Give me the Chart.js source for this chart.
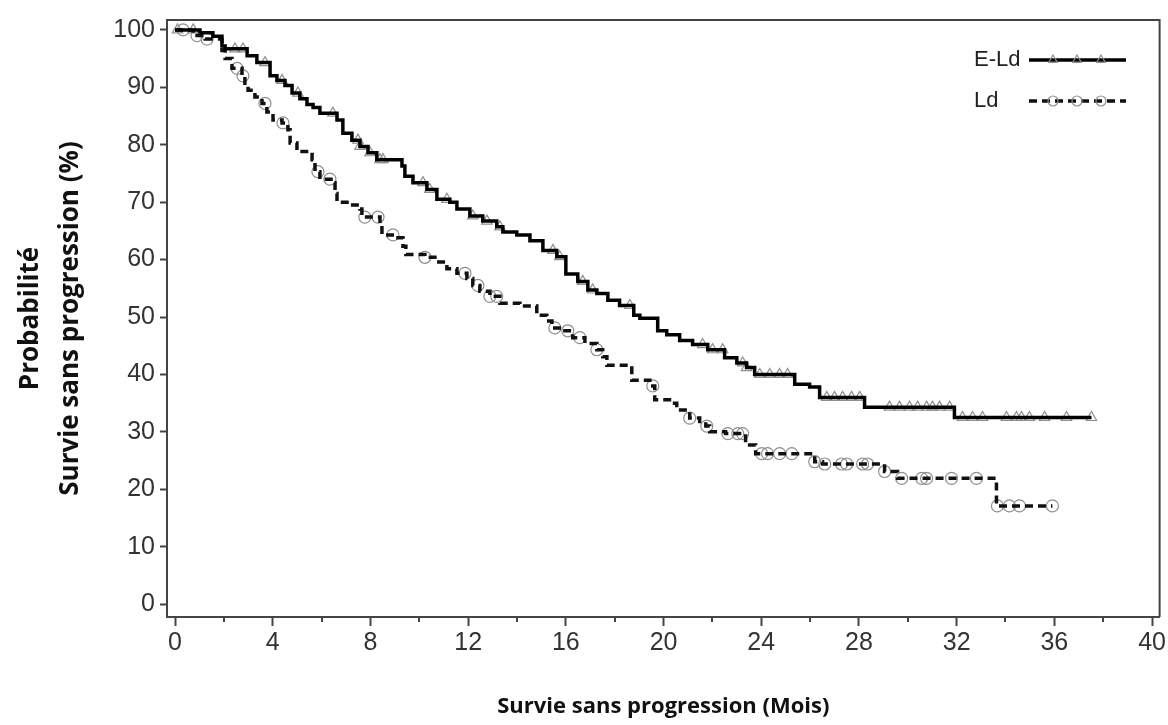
<!DOCTYPE html>
<html><head><meta charset="utf-8">
<script src="https://cdn.jsdelivr.net/npm/chart.js@4.4.1/dist/chart.umd.min.js"></script>
<style>html,body{margin:0;padding:0;background:#fff;}#wrap{width:1168px;height:725px;position:relative;}</style>
</head><body><div id="wrap"><canvas id="c" width="1168" height="725"></canvas></div>
<script>
// ---- data ----
const monthTicks = [0, 4, 8, 12, 16, 20, 24, 28, 32, 36, 40];
const minorMonthTicks = [2, 6, 10, 14, 18, 22, 26, 30, 34, 38];
const pctTicks = [0, 10, 20, 30, 40, 50, 60, 70, 80, 90, 100];
const seriesNames = ['E-Ld', 'Ld'];

const eldTimes = [0, 1.02, 1.55, 1.92, 2.05, 2.95, 3.35, 3.89, 4.17, 4.5, 4.79, 5.11, 5.4, 5.65, 5.93, 6.63, 6.87, 7.24, 7.57, 7.9, 8.26, 9.29, 9.41, 9.74, 10.31, 10.72, 11.25, 11.54, 12.07, 12.6, 13.17, 13.42, 13.99, 14.53, 15.06, 15.63, 16.0, 16.49, 16.9, 17.27, 17.72, 18.2, 18.78, 19.03, 19.76, 20.13, 20.66, 21.19, 21.81, 22.5, 23.0, 23.4, 23.73, 25.37, 25.98, 26.39, 28.23, 31.91, 37.52];
const eldSurv = [100, 99.5, 98.9, 97.2, 96.7, 95.5, 94.3, 92, 91.2, 90.3, 89, 88, 87, 86.5, 85.5, 84.3, 82, 80.8, 79.7, 78.6, 77.4, 76.3, 74.5, 73.4, 72.2, 70.5, 70, 68.8, 67.6, 66.7, 65.7, 64.8, 64.3, 63.3, 61.6, 60.5, 57.5, 56.2, 54.7, 54.1, 52.9, 52, 50.3, 49.8, 47.6, 46.9, 45.9, 45.2, 44.3, 42.9, 42, 41.2, 40, 38.3, 37.8, 36, 34.3, 32.5, 32.5];
const eldCensorTimes = [0.1, 0.74, 2.45, 2.78, 3.68, 4.38, 5.03, 6.46, 7.49, 7.57, 7.98, 8.39, 8.51, 10.15, 10.43, 11.13, 12.19, 12.77, 13.3, 15.47, 15.75, 16.69, 17.1, 18.62, 21.6, 22.01, 22.42, 23.24, 23.4, 23.94, 24.35, 24.75, 25.08, 26.68, 27.0, 27.33, 27.7, 28.03, 29.25, 29.66, 30.07, 30.4, 30.77, 31.01, 31.3, 31.71, 32.24, 32.65, 33.06, 34.04, 34.45, 34.66, 34.98, 35.6, 36.5, 37.52];

const ldTimes = [0, 0.74, 1.23, 1.92, 2.05, 2.33, 2.74, 2.86, 2.99, 3.27, 3.56, 3.76, 4.01, 4.38, 4.62, 4.71, 4.99, 5.61, 5.73, 5.93, 6.46, 6.55, 6.63, 7.16, 7.57, 7.65, 8.39, 8.47, 9.0, 9.33, 9.45, 10.23, 10.72, 11.13, 11.54, 11.95, 12.19, 12.48, 12.89, 13.3, 14.12, 14.81, 15.22, 15.43, 15.83, 16.28, 16.78, 17.27, 17.51, 17.68, 18.7, 19.44, 19.64, 20.34, 20.54, 21.07, 21.48, 21.73, 21.89, 22.54, 23.36, 23.77, 26.19, 26.51, 29.05, 29.58, 33.63, 35.92];
const ldSurv = [100, 99, 98.4, 96.4, 95, 93.3, 92, 90.7, 89.5, 88.3, 87.2, 85.7, 84.3, 83.8, 82.6, 80.3, 78.8, 77.4, 75.3, 74, 73.4, 71.5, 70, 69.5, 68.8, 67.4, 66, 64.3, 63.8, 62.3, 60.9, 60.4, 59.6, 58.4, 57.6, 56.7, 55.5, 54.5, 53.6, 52.4, 51.9, 50.3, 49.3, 48.1, 47.6, 46.4, 45.4, 44.3, 43.1, 41.6, 39, 38, 35.6, 35, 33.8, 32.4, 31.8, 31, 30, 29.7, 27.7, 26.2, 24.8, 24.4, 23.1, 21.9, 17.1, 17.1];
const ldCensorTimes = [0.33, 0.9, 1.31, 2.54, 2.78, 3.68, 4.42, 5.85, 6.34, 7.77, 8.31, 8.92, 10.23, 11.87, 12.4, 12.89, 13.17, 15.55, 16.08, 16.57, 17.27, 19.56, 21.07, 21.77, 22.63, 23.04, 23.24, 24.02, 24.26, 24.75, 25.25, 26.19, 26.6, 27.29, 27.5, 28.15, 28.35, 29.05, 29.75, 30.57, 30.77, 31.79, 32.81, 33.67, 34.16, 34.57, 35.92];

// ---- helpers ----
function stepValue(times, surv, t) {
  let v = surv[0];
  for (let i = 0; i < times.length; i++) { if (times[i] <= t + 1e-9) v = surv[i]; else break; }
  return v;
}
const eldLine = eldTimes.map((t, i) => ({x: t, y: eldSurv[i]}));
const ldLine = ldTimes.map((t, i) => ({x: t, y: ldSurv[i]}));
const eldCens = eldCensorTimes.map(t => ({x: t, y: stepValue(eldTimes, eldSurv, t)}));
const ldCens = ldCensorTimes.map(t => ({x: t, y: stepValue(ldTimes, ldSurv, t)}));

const AXIS = '#444';
const MARK = '#8f8f8f';
const TICKFONT = {family: "'Liberation Sans', Arial, sans-serif", size: 25};

const framePlugin = {
  id: 'frame',
  afterDraw(chart) {
    const {ctx, chartArea: a, scales: {x}} = chart;
    ctx.save();
    ctx.strokeStyle = AXIS; ctx.lineWidth = 2;
    ctx.beginPath();
    ctx.moveTo(a.left, a.top); ctx.lineTo(a.right, a.top); ctx.lineTo(a.right, a.bottom);
    ctx.stroke();
    ctx.beginPath();
    minorMonthTicks.forEach(v => {
      const px = Math.round(x.getPixelForValue(v));
      ctx.moveTo(px, a.bottom); ctx.lineTo(px, a.bottom + 5);
    });
    ctx.stroke();
    ctx.restore();
  }
};

const legendPlugin = {
  id: 'kmLegend',
  afterDraw(chart) {
    const {ctx} = chart;
    const rows = [
      {name: seriesNames[0], ds: chart.data.datasets[0], mk: chart.data.datasets[2], y: 60},
      {name: seriesNames[1], ds: chart.data.datasets[1], mk: chart.data.datasets[3], y: 101}
    ];
    ctx.save();
    rows.forEach(r => {
      ctx.font = "22px 'Liberation Sans', Arial, sans-serif";
      ctx.fillStyle = '#222'; ctx.textBaseline = 'middle'; ctx.textAlign = 'left';
      ctx.fillText(r.name, 974, r.y);
      ctx.strokeStyle = r.ds.borderColor; ctx.lineWidth = r.ds.borderWidth;
      ctx.setLineDash(r.ds.borderDash || []);
      ctx.beginPath(); ctx.moveTo(1029, r.y); ctx.lineTo(1126, r.y); ctx.stroke();
      ctx.setLineDash([]);
      [1053, 1077, 1101].forEach(px => {
        ctx.fillStyle = 'rgba(255,255,255,0)';
        ctx.strokeStyle = r.mk.pointBorderColor; ctx.lineWidth = 1.2;
        Chart.helpers.drawPoint(ctx, {pointStyle: r.mk.pointStyle, radius: 5, borderWidth: 1.2, rotation: 0}, px, r.y);
      });
    });
    ctx.restore();
  }
};

new Chart(document.getElementById('c'), {
  type: 'line',
  data: {
    datasets: [
      {label: seriesNames[0], data: eldLine, stepped: true, borderColor: '#000', borderWidth: 3.5, pointRadius: 0, fill: false, order: 0},
      {label: seriesNames[1], data: ldLine, stepped: true, borderColor: '#111', borderWidth: 3.5, borderDash: [8, 5], pointRadius: 0, fill: false, order: 1},
      {label: seriesNames[0] + ' censure', data: eldCens, showLine: false, pointStyle: 'triangle', pointRadius: 6, pointBorderWidth: 1.2, pointBorderColor: MARK, pointBackgroundColor: 'rgba(255,255,255,0)', borderColor: MARK, order: 2},
      {label: seriesNames[1] + ' censure', data: ldCens, showLine: false, pointStyle: 'circle', pointRadius: 6, pointBorderWidth: 1.2, pointBorderColor: MARK, pointBackgroundColor: 'rgba(255,255,255,0)', borderColor: MARK, order: 3}
    ]
  },
  options: {
    responsive: false, animation: false, devicePixelRatio: 1,
    layout: {padding: {top: 14, right: 8, left: 0, bottom: 0}},
    plugins: {legend: {display: false}, tooltip: {enabled: false}},
    scales: {
      x: {
        type: 'linear', min: -0.33, max: 40.31,
        afterBuildTicks: s => { s.ticks = monthTicks.map(v => ({value: v})); },
        afterFit: s => { s.height = 108; },
        grid: {drawOnChartArea: false, drawTicks: true, tickLength: 9, tickWidth: 2, tickColor: AXIS},
        border: {display: true, color: AXIS, width: 2},
        ticks: {font: TICKFONT, color: '#333', padding: 2, maxRotation: 0, autoSkip: false},
        title: {display: true, text: 'Survie sans progression (Mois)', font: {family: "'Open Sans', sans-serif", size: 22, weight: 'bold'}, color: '#111', padding: {top: 0, bottom: 5}}
      },
      y: {
        type: 'linear', min: -2.24, max: 101.72,
        afterBuildTicks: s => { s.ticks = pctTicks.map(v => ({value: v})); },
        afterFit: s => { s.width = 167; },
        grid: {drawOnChartArea: false, drawTicks: true, tickLength: 7, tickWidth: 2, tickColor: AXIS},
        border: {display: true, color: AXIS, width: 2},
        ticks: {font: TICKFONT, color: '#333', padding: 5, autoSkip: false},
        title: {display: true, text: ['Probabilité', 'Survie sans progression (%)'], font: {family: "'Open Sans', sans-serif", size: 26, weight: 'bold', lineHeight: 1.54}, color: '#111', padding: {top: 11, bottom: 0}}
      }
    }
  },
  plugins: [framePlugin, legendPlugin]
});
</script></body></html>
